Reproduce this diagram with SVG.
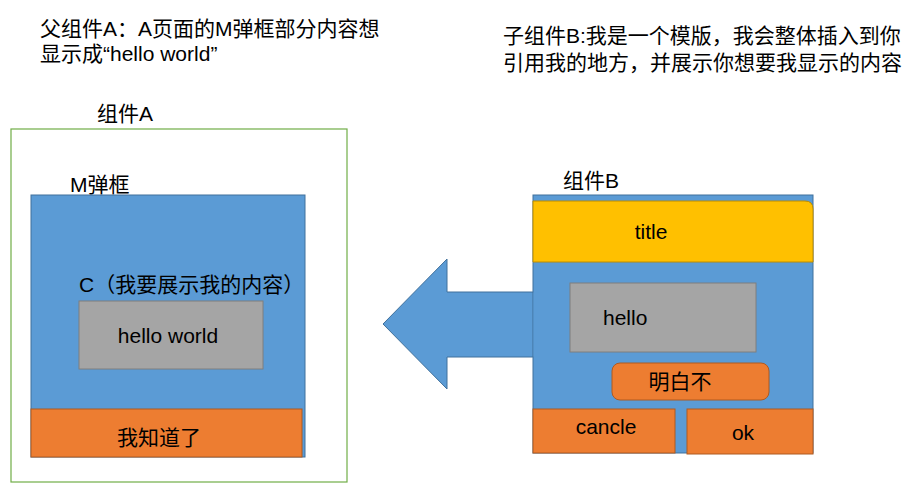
<svg xmlns="http://www.w3.org/2000/svg" width="919" height="500" viewBox="0 0 919 500">
<style>
text{font-family:"Liberation Sans","Noto Sans CJK SC",sans-serif;font-size:21px;fill:#000}
.blue{fill:#5B9BD5;stroke:#41719C;stroke-width:1}
.orange{fill:#ED7D31;stroke:#AE5A21;stroke-width:1}
.gray{fill:#A5A5A5;stroke:#7F7F7F;stroke-width:1}
.yellow{fill:#FFC000;stroke:#BC8C00;stroke-width:1}
.frame{fill:#fff;stroke:#70AD47;stroke-width:1.2}
.mid{text-anchor:middle}
</style>
<rect width="919" height="500" fill="#fff"/>
<g id="caption-a">
<text x="40" y="36">父组件A：A页面的M弹框部分内容想</text>
<text x="40" y="61">显示成“hello world”</text>
</g>
<g id="caption-b">
<text x="503" y="43">子组件B:我是一个模版，我会整体插入到你</text>
<text x="503" y="70">引用我的地方，并展示你想要我显示的内容</text>
</g>
<g id="component-a">
<text x="97" y="121">组件A</text>
<rect class="frame" x="11" y="129" width="336" height="353"/>
</g>
<g id="modal-m">
<text x="70" y="192">M弹框</text>
<rect class="blue" x="31" y="195" width="274" height="262"/>
</g>
<g id="slot-c">
<text x="79" y="292">C（我要展示我的内容）</text>
<rect class="gray" x="79" y="301" width="184" height="68"/>
<text class="mid" x="168" y="343">hello world</text>
</g>
<g id="btn-know">
<rect class="orange" x="31" y="409" width="271" height="48"/>
<text class="mid" x="159" y="445">我知道了</text>
</g>
<g id="connectors">
<polygon points="536,292 447,292 447,259 383,324 447,389 447,357 536,357" fill="#5B9BD5" stroke="none"/>
<polyline points="533,292 447,292 447,259 383,324 447,389 447,357 533,357" fill="none" stroke="#41719C" stroke-width="1"/>
</g>
<g id="component-b">
<text x="563" y="188">组件B</text>
<rect class="blue" x="533" y="195" width="280" height="258"/>
<polygon points="533.5,292.5 540,292.5 540,356.5 533.5,356.5" fill="#5B9BD5"/>
</g>
<g id="title-b">
<path class="yellow" d="M533,201 H805 Q813,201 813,209 V262 H533 Z"/>
<text class="mid" x="651" y="239">title</text>
</g>
<g id="slot-b">
<rect class="gray" x="570" y="283" width="186" height="69"/>
<text x="603" y="325">hello</text>
</g>
<g id="btn-understand">
<rect class="orange" x="612" y="363" width="157" height="37" rx="8"/>
<text class="mid" x="680" y="389">明白不</text>
</g>
<g id="btn-cancel">
<rect class="orange" x="533" y="409" width="142" height="44"/>
<text class="mid" x="606" y="434">cancle</text>
</g>
<g id="btn-ok">
<rect class="orange" x="687" y="409" width="126" height="45"/>
<text class="mid" x="743" y="440">ok</text>
</g>
</svg>
